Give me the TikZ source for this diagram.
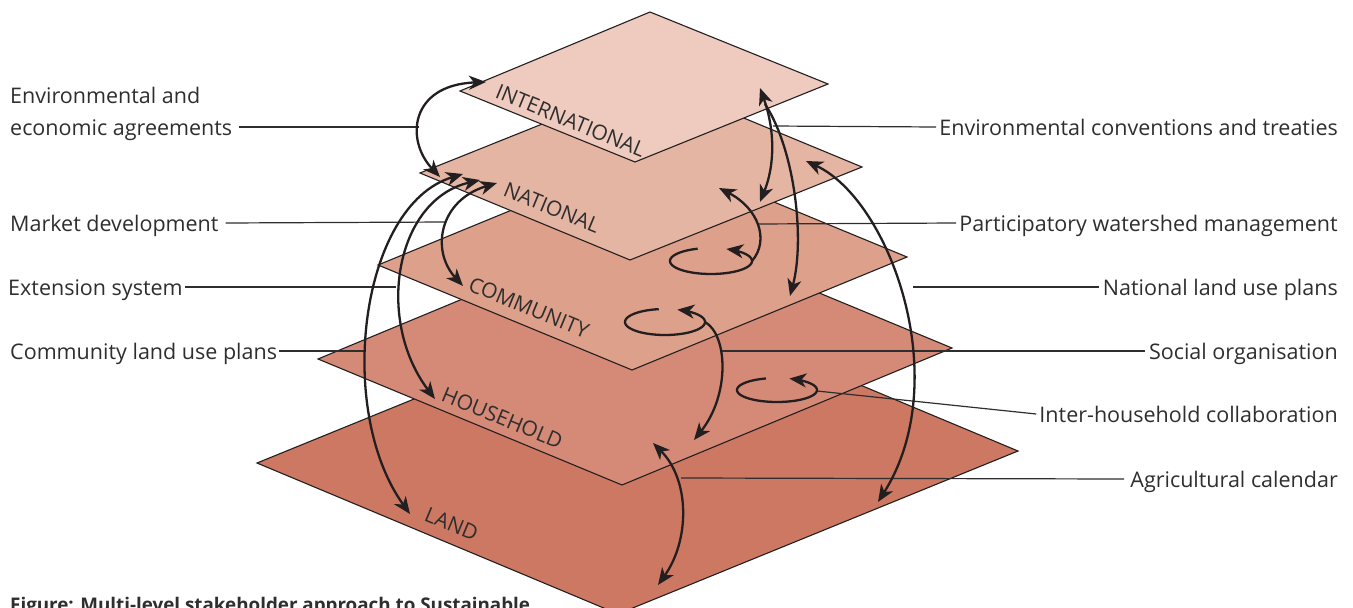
\documentclass[tikz,border=0pt]{standalone}
\usepackage{fontspec}
\setmainfont{Open Sans}
\usetikzlibrary{arrows.meta,calc}
\definecolor{cInt}{HTML}{EECBBE}
\definecolor{cNat}{HTML}{E5B5A4}
\definecolor{cCom}{HTML}{DDA08B}
\definecolor{cHou}{HTML}{D48A76}
\definecolor{cLand}{HTML}{CC7862}
\definecolor{ink}{HTML}{231F20}
\definecolor{txt}{HTML}{2E2E2E}
\tikzset{
  tipx/.tip={Stealth[length=17pt,width=14pt,inset=5pt]},
  plane/.style={draw=ink, line width=1.1pt, line join=miter},
  lvl/.style={font=\fontsize{21}{25}\selectfont, text=txt, inner sep=0pt, anchor=base west, rotate=-22.5},
  lbl/.style={font=\fontsize{21.5}{26}\selectfont, text=txt, inner sep=0pt},
  leader/.style={draw=txt, line width=1.2pt},
  arr/.style={draw=ink, line width=2.3pt, -tipx},
  darr/.style={draw=ink, line width=2.3pt, tipx-tipx},
  rarr/.style={draw=ink, line width=2.3pt, tipx-}
}
\begin{document}
\begin{tikzpicture}[x=1pt,y=-1pt]
\useasboundingbox (0,0) rectangle (1353,608);
% planes, bottom to top
\fill[cLand] (257,463) -- (657,300) -- (1018,451) -- (618,614) -- cycle;
\draw[plane] (257,463) -- (657,300) -- (1018,451) -- (618,614) -- cycle;
\node[lvl] (lLand) at (423,520) {LAND};
\fill[cHou] (318,359) -- (648,222) -- (952,348) -- (622,485) -- cycle;
\draw[plane] (318,359) -- (648,222) -- (952,348) -- (622,485) -- cycle;
\node[lvl] (lHou) at (440,400) {HOUSEHOLD};
\fill[cCom] (378,265) -- (653,152) -- (907,257) -- (632,370) -- cycle;
\draw[plane] (378,265) -- (653,152) -- (907,257) -- (632,370) -- cycle;
\node[lvl] (lCom) at (467,290) {COMMUNITY};
\fill[cNat] (420,173) -- (652,80) -- (862,167) -- (630,260) -- cycle;
\draw[plane] (420,173) -- (652,80) -- (862,167) -- (630,260) -- cycle;
\node[lvl] (lNat) at (502,195) {NATIONAL};
\fill[cInt] (460,91) -- (650,12) -- (828,84) -- (635,162) -- cycle;
\draw[plane] (460,91) -- (650,12) -- (828,84) -- (635,162) -- cycle;
\node[lvl] (lInt) at (494,97) {INTERNATIONAL};

% left texts
\node[lbl, anchor=base west] (tEnvA) at (10,103) {Environmental and};
\node[lbl, anchor=base west] (tEnvB) at (10,135) {economic agreements};
\node[lbl, anchor=base west] (tMkt) at (10,231) {Market development};
\node[lbl, anchor=base west] (tExt) at (8,295) {Extension system};
\node[lbl, anchor=base west] (tCLU) at (10,359) {Community land use plans};
% right texts
\node[lbl, anchor=base east] (tConv) at (1338,135) {Environmental conventions and treaties};
\node[lbl, anchor=base east] (tPWM) at (1338,231) {Participatory watershed management};
\node[lbl, anchor=base east] (tNLU) at (1338,295) {National land use plans};
\node[lbl, anchor=base east] (tSoc) at (1338,359) {Social organisation};
\node[lbl, anchor=base east] (tIHC) at (1338,422) {Inter-household collaboration};
\node[lbl, anchor=base east] (tAgr) at (1338,487) {Agricultural calendar};

% leader end points
\coordinate (eEnvB) at (419,127);
\coordinate (eMkt) at (446,222);
\coordinate (eExt) at (396,287);
\coordinate (eCLU) at (364,351);
\coordinate (eConv) at (773,126);
\coordinate (ePWM) at (757,224);
\coordinate (eNLU) at (913,287);
\coordinate (eSoc) at (722,351);
\coordinate (eIHC) at (817,391);
\coordinate (eAgr) at (681,478);
\draw[leader] ($(tEnvB.base east)+(7,-8)$) -- (eEnvB);
\draw[leader] ($(tMkt.base east)+(7,-8)$) -- (eMkt);
\draw[leader] ($(tExt.base east)+(2,-8)$) -- (eExt);
\draw[leader] ($(tCLU.base east)+(2,-8)$) -- (eCLU);
\draw[leader] ($(tConv.base west)+(-3,-8)$) -- (eConv);
\draw[leader] ($(tPWM.base west)+(-3,-8)$) -- (ePWM);
\draw[leader] ($(tNLU.base west)+(-4,-8)$) -- (eNLU);
\draw[leader] ($(tSoc.base west)+(-4,-8)$) -- (eSoc);
\draw[leader] ($(tIHC.base west)+(-3,-8)$) -- (eIHC);
\draw[leader] ($(tAgr.base west)+(-6,-8)$) -- (eAgr);

% arrow end points
\coordinate (a1n) at (440,177);
\coordinate (a1i) at (486,82);
\coordinate (a2n) at (463,174);
\coordinate (a2l) at (410,514);
\coordinate (a3n) at (480,180);
\coordinate (a3h) at (435,399);
\coordinate (a4n) at (497,183);
\coordinate (a4c) at (463,286);
\coordinate (b1i) at (760,88);
\coordinate (b1s) at (765,104);
\coordinate (b1n) at (760,202);
\coordinate (b2c) at (790,296);
\coordinate (b3n) at (806,161);
\coordinate (b3l) at (878,502);
\coordinate (b4s) at (752,261);
\coordinate (b4n) at (719,188);
\coordinate (b5s) at (705,322);
\coordinate (b5h) at (694,440);
\coordinate (b6h) at (653,443);
\coordinate (b6l) at (658,585);

% arrows
\draw[darr] (a1n) .. controls (405,140) and (410,85) .. (a1i);
\draw[darr] (a2n) .. controls (360,205) and (335,410) .. (a2l);
\draw[darr] (a3n) .. controls (395,200) and (375,320) .. (a3h);
\draw[darr] (a4n) .. controls (440,200) and (430,250) .. (a4c);
\draw[darr] (b1i) .. controls (775,130) and (775,165) .. (b1n);
\draw[arr] (b1s) .. controls (795,150) and (805,240) .. (b2c);
\draw[darr] (b3n) .. controls (890,200) and (955,380) .. (b3l);
\draw[darr] (b6h) .. controls (690,480) and (690,540) .. (b6l);
% loops
\draw[rarr] plot[variable=\t, domain=-68:251, samples=70, smooth] ({711+41*cos(\t)},{261+13*sin(\t)});
\draw[arr] (b4s) .. controls (770,240) and (758,208) .. (b4n);
\draw[rarr] plot[variable=\t, domain=-72:261, samples=70, smooth] ({665+40*cos(\t)},{322+13*sin(\t)});
\draw[arr] (b5s) .. controls (728,335) and (730,395) .. (b5h);
\draw[rarr] plot[variable=\t, domain=-72:254, samples=70, smooth] ({777+40*cos(\t)},{390+12*sin(\t)});

% caption (cut by the page edge, as in the reference)
\node[font=\bfseries\fontsize{18.8}{22}\selectfont, text=txt, inner sep=0pt, anchor=base west] (cap) at (10,611) {Figure: Multi-level stakeholder approach to Sustainable};
\end{tikzpicture}
\end{document}
